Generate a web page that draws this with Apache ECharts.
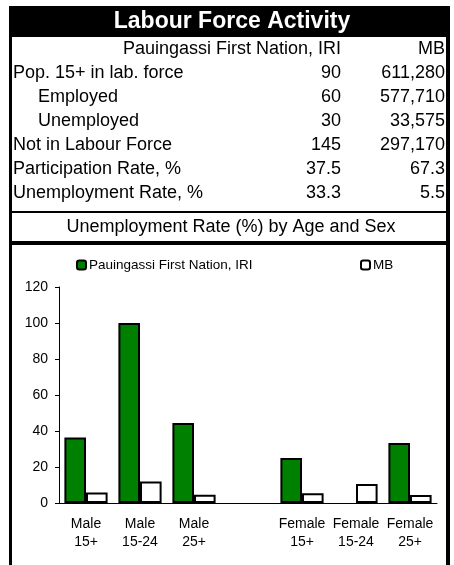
<!DOCTYPE html>
<html>
<head>
<meta charset="utf-8">
<script src="https://cdn.jsdelivr.net/npm/echarts@6/dist/echarts.min.js"></script>
<style>
  html, body { margin: 0; padding: 0; background: #fff; }
  #chart { width: 454px; height: 565px; }
</style>
</head>
<body>
<div id="chart"></div>
<script>
const title = 'Labour Force Activity';
const placeName = 'Pauingassi First Nation, IRI';
const provName = 'MB';
const rowLabels = ['Pop. 15+ in lab. force', 'Employed', 'Unemployed', 'Not in Labour Force', 'Participation Rate, %', 'Unemployment Rate, %'];
const placeValues = ['90', '60', '30', '145', '37.5', '33.3'];
const provValues = ['611,280', '577,710', '33,575', '297,170', '67.3', '5.5'];
const chartTitle = 'Unemployment Rate (%) by Age and Sex';

const categories = ['Male\n15+', 'Male\n15-24', 'Male\n25+', '', 'Female\n15+', 'Female\n15-24', 'Female\n25+'];
const placeRates = [36.4, 100, 44.4, null, 25.0, 0, 33.3];
const provRates = [5.8, 12.0, 4.6, null, 5.4, 10.6, 4.4];

const font = 'Liberation Sans, Arial, sans-serif';
const chart = echarts.init(document.getElementById('chart'));

// zero bars get no outline so they vanish into the axis
function barData(arr) {
  return arr.map(v => v === 0 ? { value: 0, itemStyle: { borderWidth: 0 } } : v);
}

// frame + table drawn as graphics
let g = [
  { type: 'rect', shape: { x: 9, y: 6, width: 441, height: 600 }, style: { fill: '#000' }, z: -10 },
  { type: 'rect', shape: { x: 12, y: 37, width: 434, height: 174 }, style: { fill: '#fff' }, z: -9 },
  { type: 'rect', shape: { x: 12, y: 213, width: 434, height: 28 }, style: { fill: '#fff' }, z: -9 },
  { type: 'rect', shape: { x: 12, y: 245, width: 434, height: 400 }, style: { fill: '#fff' }, z: -9 },
  { type: 'text', x: 232, y: 22, style: { text: title, fill: '#fff', font: 'bold 23px ' + font, textAlign: 'center', textVerticalAlign: 'middle' } },
  { type: 'text', x: 341, y: 49, style: { text: placeName, fill: '#000', font: '18px ' + font, textAlign: 'right', textVerticalAlign: 'middle' } },
  { type: 'text', x: 445, y: 49, style: { text: provName, fill: '#000', font: '18px ' + font, textAlign: 'right', textVerticalAlign: 'middle' } },
  { type: 'text', x: 231, y: 227, style: { text: chartTitle, fill: '#000', font: '18px ' + font, textAlign: 'center', textVerticalAlign: 'middle' } }
];
rowLabels.forEach((lab, i) => {
  const y = 73 + i * 24;
  const indent = (i === 1 || i === 2) ? 38 : 13;
  g.push({ type: 'text', x: indent, y: y, style: { text: lab, fill: '#000', font: '18px ' + font, textVerticalAlign: 'middle' } });
  g.push({ type: 'text', x: 341, y: y, style: { text: placeValues[i], fill: '#000', font: '18px ' + font, textAlign: 'right', textVerticalAlign: 'middle' } });
  g.push({ type: 'text', x: 445, y: y, style: { text: provValues[i], fill: '#000', font: '18px ' + font, textAlign: 'right', textVerticalAlign: 'middle' } });
});

chart.setOption({
  animation: false,
  textStyle: { fontFamily: font },
  graphic: g,
  legend: [
    {
      data: [placeName], left: 71, top: 253, itemWidth: 9, itemHeight: 9, itemGap: 4,
      textStyle: { fontSize: 13.5, color: '#000', padding: [0, 0, 0, -2] }
    },
    {
      data: [provName], left: 355, top: 253, itemWidth: 9, itemHeight: 9,
      textStyle: { fontSize: 13.5, color: '#000', padding: [0, 0, 0, -2] }
    }
  ],
  grid: { left: 59, right: 17, top: 287, bottom: 62 },
  xAxis: {
    type: 'category',
    data: categories,
    axisLine: { lineStyle: { color: '#000', width: 1 } },
    axisTick: { length: 4, lineStyle: { color: '#000' } },
    axisLabel: { fontSize: 14, color: '#000', lineHeight: 18, margin: 12, interval: 0 }
  },
  yAxis: {
    type: 'value',
    min: 0, max: 120, interval: 20,
    axisLine: { show: true, lineStyle: { color: '#000', width: 1 } },
    axisTick: { show: true, length: 4, lineStyle: { color: '#000' } },
    axisLabel: { fontSize: 14, color: '#000', margin: 11 },
    splitLine: { show: false }
  },
  series: [
    {
      name: placeName, type: 'bar', data: barData(placeRates),
      barGap: '0%', barCategoryGap: '20%',
      itemStyle: { color: '#008000', borderColor: '#000', borderWidth: 2 }
    },
    {
      name: provName, type: 'bar', data: barData(provRates),
      itemStyle: { color: '#fff', borderColor: '#000', borderWidth: 2 }
    }
  ]
});
</script>
</body>
</html>
